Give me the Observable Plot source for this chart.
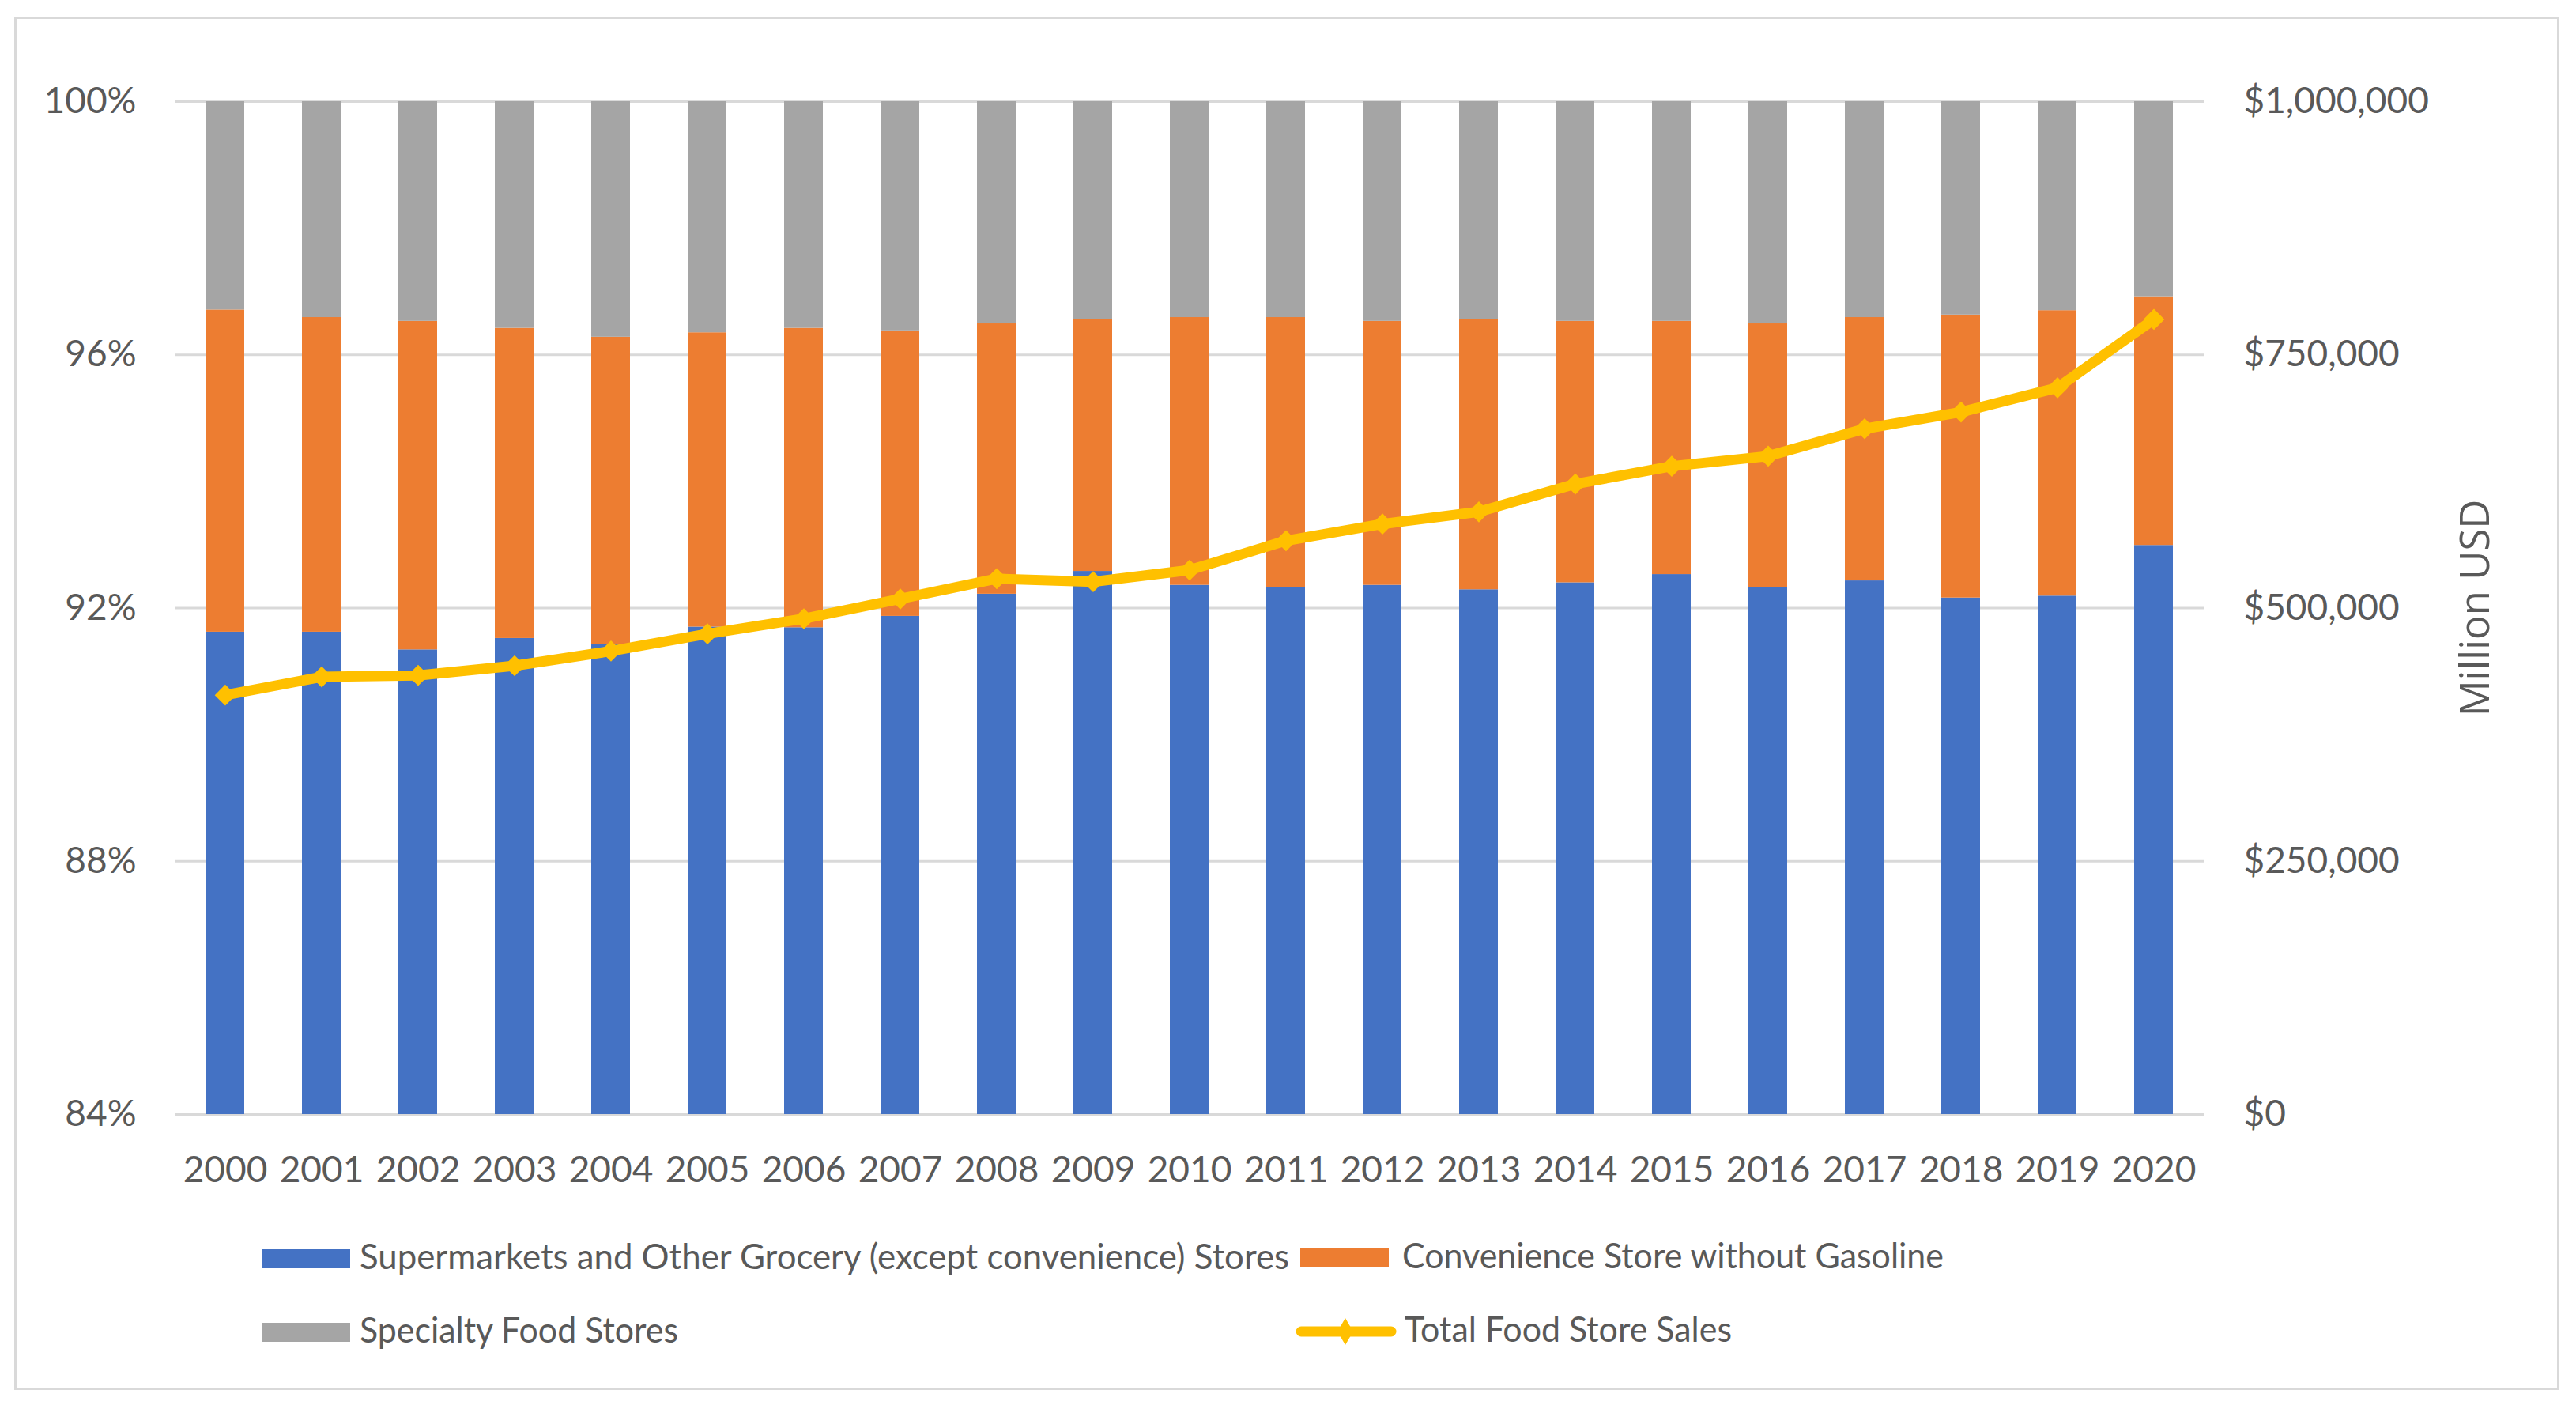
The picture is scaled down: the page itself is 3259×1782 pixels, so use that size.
<!DOCTYPE html>
<html>
<head>
<meta charset="utf-8">
<script src="https://cdn.jsdelivr.net/npm/d3@7"></script>
<script src="https://cdn.jsdelivr.net/npm/@observablehq/plot@0.6"></script>
<style>
html, body { margin: 0; padding: 0; background: #fff; }
#wrap { position: relative; width: 3259px; height: 1782px; overflow: hidden; background: #fff; }
#frame { position: absolute; left: 18px; top: 21px; width: 3214px; height: 1731px; border: 3px solid #D9D9D9; }
.layer { position: absolute; left: 0; top: 0; }
</style>
</head>
<body>
<div id="wrap"><div id="frame"></div></div>
<script>
// ---------- data ----------
const years = [2000, 2001, 2002, 2003, 2004, 2005, 2006, 2007, 2008, 2009, 2010,
               2011, 2012, 2013, 2014, 2015, 2016, 2017, 2018, 2019, 2020];
// share of food store sales (%)
const supermarketShare = [91.62, 91.62, 91.34, 91.52, 91.42, 91.70, 91.69, 91.87, 92.22, 92.58, 92.36,
                          92.33, 92.36, 92.29, 92.40, 92.53, 92.33, 92.43, 92.16, 92.19, 92.99];
const convenienceShare = [5.09, 4.97, 5.19, 4.90, 4.86, 4.65, 4.73, 4.51, 4.27, 3.98, 4.23,
                          4.26, 4.17, 4.27, 4.13, 4.00, 4.16, 4.16, 4.47, 4.51, 3.93];
const specialtyShare   = [3.29, 3.41, 3.47, 3.58, 3.72, 3.65, 3.58, 3.62, 3.51, 3.44, 3.41,
                          3.41, 3.47, 3.44, 3.47, 3.47, 3.51, 3.41, 3.37, 3.30, 3.08];
// total food store sales (million USD)
const totalSales = [414000, 432000, 433500, 443000, 457500, 474500, 489500, 509000, 529000, 526000, 537500,
                    566500, 583000, 595000, 622500, 640000, 650000, 677000, 693500, 717500, 785000];
const seriesNames = ["Supermarkets and Other Grocery (except convenience) Stores",
                     "Convenience Store without Gasoline",
                     "Specialty Food Stores"];
const lineName = "Total Food Store Sales";
const leftTicks = [84, 88, 92, 96, 100];
const rightTicks = [0, 250000, 500000, 750000, 1000000];
const rightAxisTitle = "Million USD";
const seriesColors = ["#4472C4", "#ED7D31", "#A5A5A5"];
const lineColor = "#FFC000";

// ---------- layout ----------
const W = 3259, H = 1530;
const M = { left: 221, right: 471, top: 128, bottom: 121 };
const textColor = "#595959";
const gridColor = "#D9D9D9";
const tickFont = "Lato, 'Open Sans', sans-serif";

const shares = years.flatMap((y, i) => [
  { year: String(y), series: seriesNames[0], value: supermarketShare[i] },
  { year: String(y), series: seriesNames[1], value: convenienceShare[i] },
  { year: String(y), series: seriesNames[2], value: specialtyShare[i] }
]);
const sales = years.map((y, i) => ({ year: String(y), value: totalSales[i] }));

const xScale = { type: "band", domain: years.map(String), paddingInner: 0.6, paddingOuter: 0.3, label: null };
const commonStyle = { fontFamily: tickFont, fontSize: "46px", color: textColor, background: "transparent", overflow: "visible" };

const barsPlot = Plot.plot({
  width: W, height: H,
  marginLeft: M.left, marginRight: M.right, marginTop: M.top, marginBottom: M.bottom,
  style: commonStyle,
  x: xScale,
  y: { domain: [84, 100], label: null },
  color: { domain: seriesNames, range: seriesColors },
  marks: [
    Plot.ruleY(leftTicks, { y: d => d, stroke: gridColor, strokeWidth: 3 }),
    Plot.barY(shares, Plot.stackY({ x: "year", y: "value", fill: "series", order: seriesNames, clip: true })),
    Plot.axisY({ ticks: leftTicks, tickFormat: d => d + "%", tickSize: 0, tickPadding: 49, label: null,
                 fill: textColor, fontSize: 46, fontFamily: tickFont }),
    Plot.axisX({ tickSize: 0, tickPadding: 53, label: null, fill: textColor, fontSize: 46, fontFamily: tickFont })
  ]
});

const linePlot = Plot.plot({
  width: W, height: H,
  marginLeft: M.left, marginRight: M.right, marginTop: M.top, marginBottom: M.bottom,
  style: commonStyle,
  x: { ...xScale, axis: null },
  y: { domain: [0, 1000000], label: null },
  marks: [
    Plot.lineY(sales, { x: "year", y: "value", stroke: lineColor, strokeWidth: 13,
                        strokeLinejoin: "round", strokeLinecap: "round" }),
    Plot.dot(sales, { x: "year", y: "value", symbol: "diamond2", r: 12, fill: lineColor, stroke: "none" }),
    Plot.axisY({ anchor: "right", ticks: rightTicks, tickFormat: d => "$" + d3.format(",")(d),
                 tickSize: 0, tickPadding: 50, label: null, fill: textColor, fontSize: 46, fontFamily: tickFont }),
    Plot.text([rightAxisTitle], { frameAnchor: "right", text: d => d, rotate: -90, dx: 344,
                                  textAnchor: "middle", fontSize: 51, fontFamily: "'Open Sans', sans-serif", fill: textColor })
  ]
});

const wrap = document.getElementById("wrap");
barsPlot.classList.add("layer");
linePlot.classList.add("layer");
wrap.appendChild(barsPlot);
wrap.appendChild(linePlot);

// ---------- legend (below the plot) ----------
const legend = d3.select(wrap).append("svg")
  .attr("class", "layer")
  .attr("width", W).attr("height", 1782)
  .style("pointer-events", "none");

const legendFont = 44;
const items = [
  { label: seriesNames[0], kind: "rect", color: seriesColors[0], x: 331, cy: 1592, tx: 455, tw: 1176 },
  { label: seriesNames[1], kind: "rect", color: seriesColors[1], x: 1645, cy: 1591, tx: 1774, tw: 685 },
  { label: seriesNames[2], kind: "rect", color: seriesColors[2], x: 331, cy: 1685, tx: 455, tw: 403 },
  { label: lineName, kind: "line", color: lineColor, x: 1640, cy: 1684, tx: 1777, tw: 414 }
];
for (const it of items) {
  if (it.kind === "rect") {
    legend.append("rect").attr("x", it.x).attr("y", it.cy - 12).attr("width", 112).attr("height", 24).attr("fill", it.color);
  } else {
    legend.append("line").attr("x1", it.x + 6).attr("x2", it.x + 120).attr("y1", it.cy).attr("y2", it.cy)
      .attr("stroke", it.color).attr("stroke-width", 13).attr("stroke-linecap", "round");
    const s = d3.symbol(d3.symbolDiamond, 2 * 13 * 13)();
    legend.append("path").attr("d", s).attr("transform", `translate(${it.x + 62},${it.cy})`).attr("fill", it.color);
  }
  legend.append("text")
    .attr("x", it.tx).attr("y", it.cy + 13)
    .attr("font-family", tickFont).attr("font-size", legendFont).attr("fill", textColor)
    .attr("textLength", it.tw).attr("lengthAdjust", "spacingAndGlyphs")
    .text(it.label);
}
</script>
</body>
</html>
